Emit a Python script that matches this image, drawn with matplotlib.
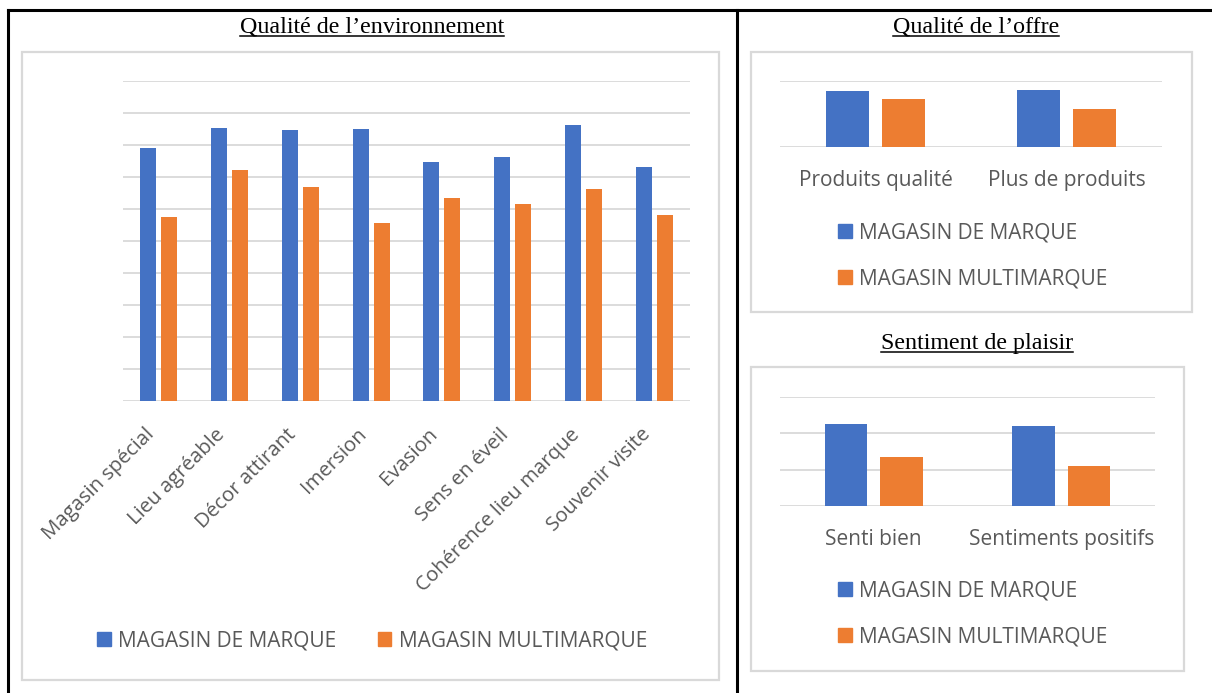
import numpy as np
import matplotlib
matplotlib.use("Agg")
import matplotlib.pyplot as plt
from matplotlib.patches import Rectangle
from matplotlib.lines import Line2D

W, H = 1212, 693

# data (scale assumed 0-5 / 0-6)
env_labels = ["Magasin spécial", "Lieu agréable", "Décor attirant", "Imersion",
              "Evasion", "Sens en éveil", "Cohérence lieu marque", "Souvenir visite"]
env_marque = [3.96, 4.26, 4.23, 4.25, 3.73, 3.81, 4.32, 3.65]
env_multi = [2.87, 3.61, 3.35, 2.78, 3.17, 3.08, 3.32, 2.90]

offre_labels = ["Produits qualité", "Plus de produits"]
offre_marque = [4.25, 4.30]
offre_multi = [3.64, 2.86]

plaisir_labels = ["Senti bien", "Sentiments positifs"]
plaisir_marque = [4.52, 4.40]
plaisir_multi = [2.68, 2.22]

series_names = ["MAGASIN DE MARQUE", "MAGASIN MULTIMARQUE"]

BLUE = "#4472C4"
ORANGE = "#ED7D31"
GRID = "#D9D9D9"
TXT = "#595959"
SANS = "Open Sans"
SERIF = "Liberation Serif"

fig = plt.figure(figsize=(W / 100, H / 100), dpi=100)


def box(x0, y0, x1, y1):
    # pixel box (top-left origin) -> figure fraction rect
    return [x0 / W, 1 - y1 / H, (x1 - x0) / W, (y1 - y0) / H]


def fx(x):
    return x / W


def fy(y):
    return 1 - y / H


# table borders
fig.add_artist(Line2D([fx(8), 1], [fy(10), fy(10)], color="black", lw=2.2))
fig.add_artist(Line2D([fx(8), fx(8)], [fy(10), 0], color="black", lw=2.2))
fig.add_artist(Line2D([fx(737), fx(737)], [fy(10), 0], color="black", lw=2.2))

# chart frames
for (x0, y0, x1, y1) in [(22, 52, 719, 680), (751, 52, 1192, 312), (751, 367, 1184, 671)]:
    fig.add_artist(Rectangle((fx(x0), fy(y1)), (x1 - x0) / W, (y1 - y0) / H,
                             fill=False, edgecolor=GRID, lw=1.6))


def draw_bars(ax, labels, a, b, ymax, step):
    x = np.arange(len(labels))
    ax.bar(x - 0.148, a, width=0.225, color=BLUE, zorder=3)
    ax.bar(x + 0.148, b, width=0.225, color=ORANGE, zorder=3)
    ax.set_xlim(-0.5, len(labels) - 0.5)
    ax.set_ylim(0, ymax)
    for v in np.arange(0, ymax + step / 2, step):
        ax.axhline(v, color=GRID, lw=1.3, zorder=1)
    ax.set_yticks([])
    ax.set_xticks(x)
    for s in ax.spines.values():
        s.set_visible(False)
    ax.tick_params(axis="x", length=0, colors=TXT)


# left chart
ax1 = fig.add_axes(box(123, 81, 690, 401))
draw_bars(ax1, env_labels, env_marque, env_multi, 5, 0.5)
ax1.set_xticklabels(env_labels, rotation=45, ha="right", va="top",
                    fontsize=14.7, family=SANS, color=TXT)
ax1.tick_params(axis="x", pad=17)

# right top chart
ax2 = fig.add_axes(box(780, 81, 1162, 147.3))
draw_bars(ax2, offre_labels, offre_marque, offre_multi, 5, 5)
ax2.set_xticklabels(offre_labels, fontsize=15, family=SANS, color=TXT)
ax2.tick_params(axis="x", pad=16.5)

# right bottom chart
ax3 = fig.add_axes(box(780, 396.7, 1155, 506.3))
draw_bars(ax3, plaisir_labels, plaisir_marque, plaisir_multi, 6, 2)
ax3.set_xticklabels(plaisir_labels, fontsize=15, family=SANS, color=TXT)
ax3.tick_params(axis="x", pad=16.5)

# legends
handles = [Rectangle((0, 0), 1, 1, color=BLUE), Rectangle((0, 0), 1, 1, color=ORANGE)]
leg_kw = dict(frameon=False, handlelength=0.65, handleheight=0.65, handletextpad=0.35,
              borderpad=0, borderaxespad=0,
              prop={"family": SANS, "size": 15})
l1 = fig.legend(handles, series_names, loc="center left", ncol=2, columnspacing=2.0,
                bbox_to_anchor=(fx(97), fy(641)), **leg_kw)
l2 = fig.legend(handles, series_names, loc="center left", labelspacing=1.2,
                bbox_to_anchor=(fx(838), fy(255.5)), **leg_kw)
l3 = fig.legend(handles, series_names, loc="center left", labelspacing=1.2,
                bbox_to_anchor=(fx(838), fy(613.5)), **leg_kw)
for lg in (l1, l2, l3):
    for t in lg.get_texts():
        t.set_color(TXT)

# underlined serif titles
titles = [("Qualité de l’environnement", 372, 33), ("Qualité de l’offre", 976, 32.7),
          ("Sentiment de plaisir", 977, 349)]
title_objs = []
for txt, x, y in titles:
    t = fig.text(fx(x), fy(y), txt, ha="center", va="baseline",
                 family=SERIF, fontsize=17.3, color="black")
    title_objs.append((t, y))

fig.canvas.draw()
r = fig.canvas.get_renderer()
for t, y in title_objs:
    bb = t.get_window_extent(r)
    fig.add_artist(Line2D([bb.x0 / W, bb.x1 / W], [fy(y + 3), fy(y + 3)],
                          color="black", lw=1.1))

fig.savefig("out.png", dpi=100)
